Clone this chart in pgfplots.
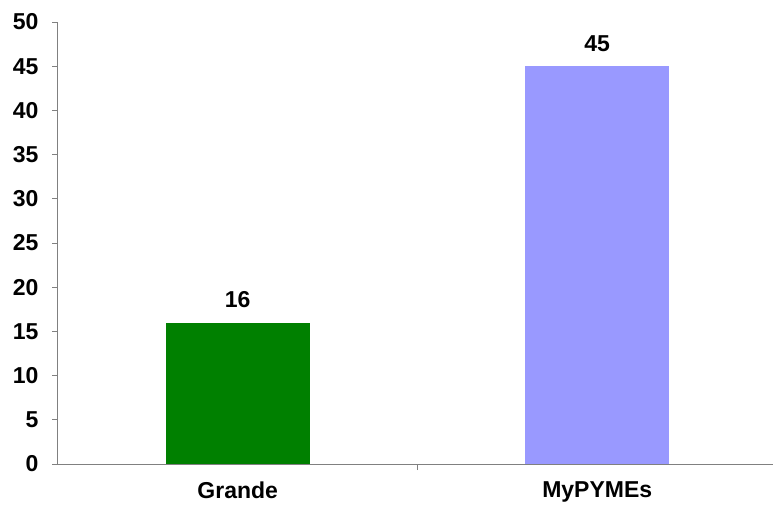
\documentclass[border=0pt]{standalone}
\usepackage{pgfplots}
\pgfplotsset{compat=1.18}
\usepackage{fontspec}
\setmainfont{Liberation Sans}
\definecolor{cgreen}{HTML}{008000}
\definecolor{cpurple}{HTML}{9999FF}
\definecolor{axgray}{HTML}{808080}
\begin{document}
\begin{tikzpicture}[x=1pt,y=1pt]
\useasboundingbox (-58,-40) rectangle (715,442+22);
\begin{axis}[
  at={(0,0)}, anchor=south west,
  scale only axis, width=715pt, height=442pt,
  xmin=-0.5, xmax=1.489, ymin=0, ymax=50,
  ytick={0,5,...,50},
  xtick={0,1}, xticklabels={Grande,MyPYMEs},
  major x tick style={draw=none},
  xticklabel style={yshift=-8pt},
  extra x ticks={0.5}, extra x tick labels={},
  extra x tick style={major x tick style={draw=axgray, line width=1pt}},
  axis x line*=bottom, axis y line*=left,
  axis line style={axgray, line width=1pt, -},
  tick style={draw=axgray, line width=1pt},
  tick align=outside, major tick length=6pt,
  /pgf/number format/assume math mode=true,
  tick label style={font=\fontsize{23}{27}\selectfont\bfseries, black},
  yticklabel style={xshift=-10pt},
  bar width=144pt,
  nodes near coords,
  every node near coord/.append style={font=\fontsize{23}{27}\selectfont\bfseries, black, yshift=11pt},
  clip=false,
]
\addplot[ybar, fill=cgreen, draw=none, bar shift=0pt] coordinates {(0,16)};
\addplot[ybar, fill=cpurple, draw=none, bar shift=0pt] coordinates {(1,45)};
\end{axis}
\end{tikzpicture}
\end{document}
